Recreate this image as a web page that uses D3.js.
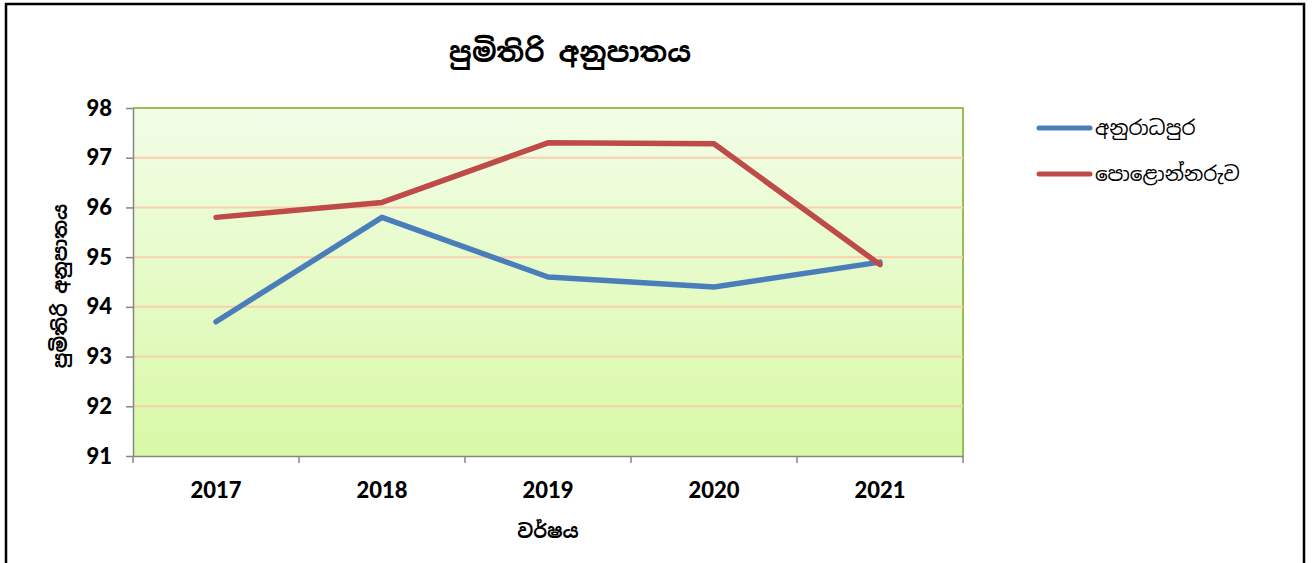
<!DOCTYPE html>
<html>
<head>
  <meta charset="utf-8">
  <title>පුමිතිරි අනුපාතය</title>
  <script src="https://cdn.jsdelivr.net/npm/d3@7"></script>
  <style>
  body { margin: 0; background: #fff; }
  .tick text { font: 900 22px Lato, "Open Sans", sans-serif; fill: #000; }
  .sin { font-family: "Noto Sans Sinhala", "Iskoola Pota", "Noto Sans", sans-serif; fill: #000; }
  </style>
</head>
<body>
<script>
  // chart data
  const years = ["2017", "2018", "2019", "2020", "2021"];
  const anuradhapura = [93.7, 95.8, 94.6, 94.4, 94.9];
  const polonnaruwa = [95.8, 96.1, 97.3, 97.28, 94.85];
  const seriesNames = ["අනුරාධපුර", "පොළොන්නරුව"];
  const seriesColors = ["#4a7ebb", "#be4b48"];
  const yTicks = [91, 92, 93, 94, 95, 96, 97, 98];

  const W = 1313, H = 563;
  const plot = { left: 133, right: 963, top: 108, bottom: 456 };

  const svg = d3.select("body").append("svg")
    .attr("width", W).attr("height", H);

  // outer frame
  svg.append("path")
    .attr("d", `M6,${H} V4 H1304 V${H}`)
    .attr("fill", "none").attr("stroke", "#000").attr("stroke-width", 2.5);

  const defs = svg.append("defs");
  const grad = defs.append("linearGradient").attr("id", "bg")
    .attr("x1", 0).attr("y1", 0).attr("x2", 0).attr("y2", 1);
  grad.append("stop").attr("offset", "0%").attr("stop-color", "#f3fde8");
  grad.append("stop").attr("offset", "100%").attr("stop-color", "#d8f9a6");

  const x = d3.scaleBand().domain(years).range([plot.left, plot.right]);
  const y = d3.scaleLinear().domain([91, 98]).range([plot.bottom, plot.top]);

  // plot background
  svg.append("rect")
    .attr("x", plot.left).attr("y", plot.top)
    .attr("width", plot.right - plot.left).attr("height", plot.bottom - plot.top)
    .attr("fill", "url(#bg)");
  svg.append("path")
    .attr("d", `M${plot.left},${plot.top} H${plot.right} V${plot.bottom}`)
    .attr("fill", "none").attr("stroke", "#9bbb59").attr("stroke-width", 2);

  // grid lines
  svg.append("g").selectAll("line")
    .data(yTicks.slice(1, -1))
    .join("line")
    .attr("x1", plot.left).attr("x2", plot.right)
    .attr("y1", d => y(d)).attr("y2", d => y(d))
    .attr("stroke", "#f9cfae").attr("stroke-width", 2);

  // axes
  const yAxis = svg.append("g")
    .attr("transform", `translate(${plot.left},0)`)
    .call(d3.axisLeft(y).tickValues(yTicks).tickFormat(d3.format("d"))
      .tickSize(7).tickSizeOuter(0).tickPadding(14));
  yAxis.select(".domain").attr("stroke", "#868686").attr("stroke-width", 1.5);
  yAxis.selectAll(".tick line").attr("stroke", "#868686").attr("stroke-width", 1.5);

  const xAxis = svg.append("g")
    .attr("transform", `translate(0,${plot.bottom})`)
    .call(d3.axisBottom(x).tickSize(0).tickPadding(26));
  xAxis.select(".domain").attr("stroke", "#868686").attr("stroke-width", 1.5);
  xAxis.append("g").selectAll("line")
    .data(years.concat(["end"]))
    .join("line")
    .attr("x1", (d, i) => plot.left + i * x.step())
    .attr("x2", (d, i) => plot.left + i * x.step())
    .attr("y1", 0).attr("y2", 7)
    .attr("stroke", "#868686").attr("stroke-width", 1.5);

  // series lines
  const line = d3.line()
    .x((d, i) => x(years[i]) + x.bandwidth() / 2)
    .y(d => y(d));
  [anuradhapura, polonnaruwa].forEach((vals, i) => {
    svg.append("path")
      .datum(vals)
      .attr("d", line)
      .attr("fill", "none")
      .attr("stroke", seriesColors[i])
      .attr("stroke-width", 5.5)
      .attr("stroke-linejoin", "round")
      .attr("stroke-linecap", "round");
  });

  // title and axis labels
  svg.append("text").attr("class", "sin")
    .attr("x", 570).attr("y", 62)
    .attr("text-anchor", "middle")
    .style("font-size", "28px").style("font-weight", "bold")
    .text("පුමිතිරි අනුපාතය");

  svg.append("text").attr("class", "sin")
    .attr("transform", `translate(67,${(plot.top + plot.bottom) / 2 + 4}) rotate(-90)`)
    .attr("text-anchor", "middle")
    .style("font-size", "19px").style("font-weight", "bold")
    .text("පුමිතිරි අනුපාතය");

  svg.append("text").attr("class", "sin")
    .attr("x", 548).attr("y", 538)
    .attr("text-anchor", "middle")
    .style("font-size", "19px").style("font-weight", "bold")
    .text("වර්ෂය");

  // legend
  const legend = svg.append("g").attr("transform", "translate(1037,128)");
  seriesNames.forEach((name, i) => {
    const g = legend.append("g").attr("transform", `translate(0,${i * 46})`);
    g.append("line")
      .attr("x1", 2).attr("x2", 53)
      .attr("stroke", seriesColors[i]).attr("stroke-width", 5)
      .attr("stroke-linecap", "round");
    g.append("text").attr("class", "sin")
      .attr("x", 58).attr("y", 7)
      .style("font-size", "20px")
      .text(name);
  });
</script>
</body>
</html>
